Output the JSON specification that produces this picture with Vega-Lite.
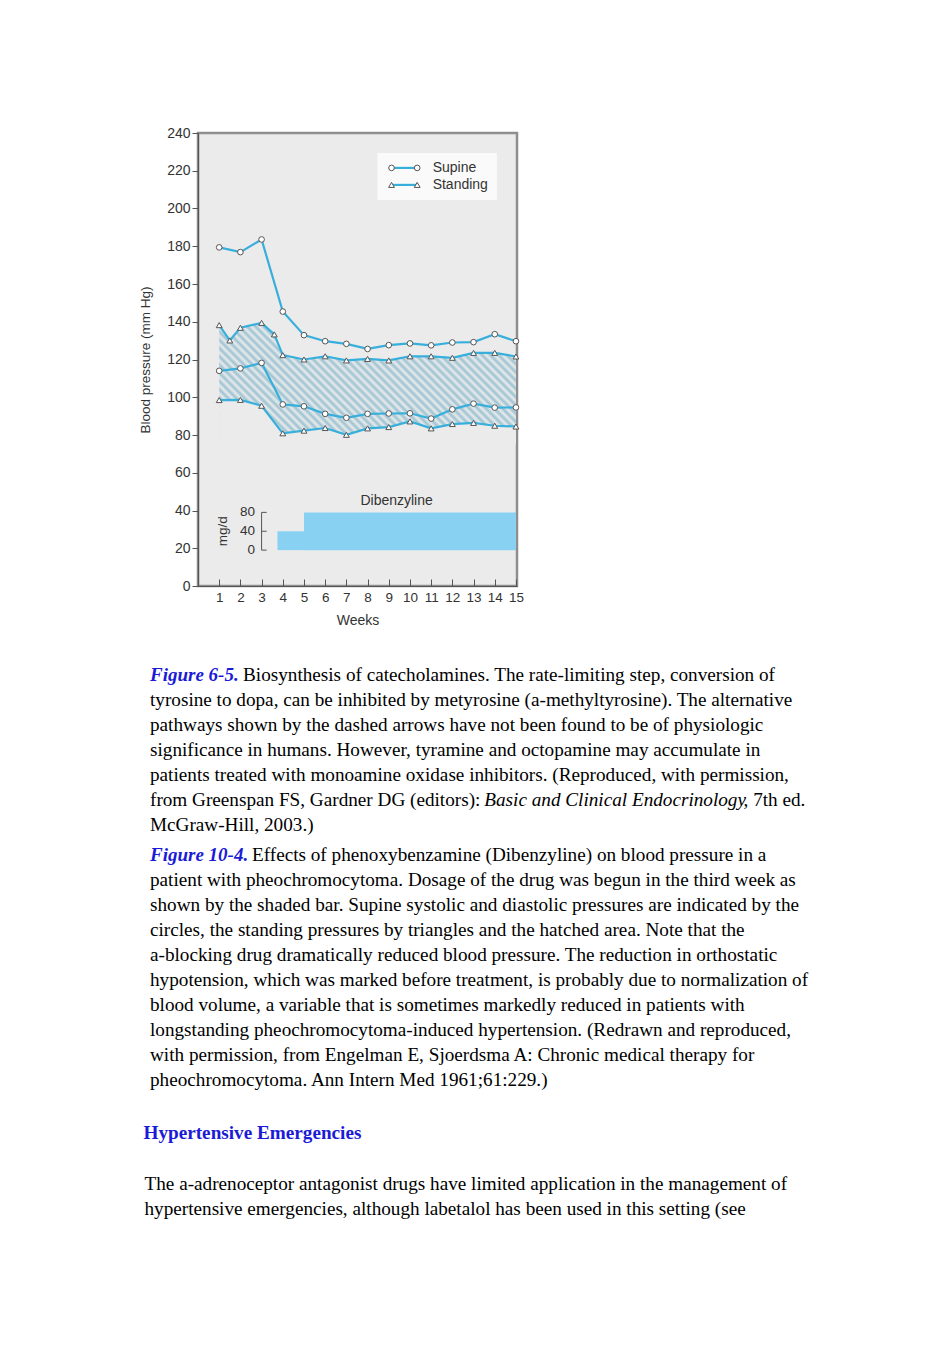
{
  "$schema": "https://vega.github.io/schema/vega-lite/v6.json",
  "background": "white",
  "padding": {"left": 136, "top": 124, "right": 5, "bottom": 5},
  "spacing": 26.5,
  "config": {"font": "Liberation Sans", "view": {"stroke": null}, "axis": {"labelOverlap": false, "labelFlush": false, "labelBound": false}},
  "datasets": {
    "bp": [
      {"week": 1, "posture": "Supine", "measure": "Systolic", "value": 179.4},
      {"week": 2, "posture": "Supine", "measure": "Systolic", "value": 176.9},
      {"week": 3, "posture": "Supine", "measure": "Systolic", "value": 183.6},
      {"week": 4, "posture": "Supine", "measure": "Systolic", "value": 145.4},
      {"week": 5, "posture": "Supine", "measure": "Systolic", "value": 132.9},
      {"week": 6, "posture": "Supine", "measure": "Systolic", "value": 129.7},
      {"week": 7, "posture": "Supine", "measure": "Systolic", "value": 128.3},
      {"week": 8, "posture": "Supine", "measure": "Systolic", "value": 125.6},
      {"week": 9, "posture": "Supine", "measure": "Systolic", "value": 127.6},
      {"week": 10, "posture": "Supine", "measure": "Systolic", "value": 128.5},
      {"week": 11, "posture": "Supine", "measure": "Systolic", "value": 127.5},
      {"week": 12, "posture": "Supine", "measure": "Systolic", "value": 129},
      {"week": 13, "posture": "Supine", "measure": "Systolic", "value": 129.2},
      {"week": 14, "posture": "Supine", "measure": "Systolic", "value": 133.4},
      {"week": 15, "posture": "Supine", "measure": "Systolic", "value": 129.7},
      {"week": 1, "posture": "Supine", "measure": "Diastolic", "value": 114},
      {"week": 2, "posture": "Supine", "measure": "Diastolic", "value": 115.3},
      {"week": 3, "posture": "Supine", "measure": "Diastolic", "value": 118.2},
      {"week": 4, "posture": "Supine", "measure": "Diastolic", "value": 96.2},
      {"week": 5, "posture": "Supine", "measure": "Diastolic", "value": 95.2},
      {"week": 6, "posture": "Supine", "measure": "Diastolic", "value": 91.2},
      {"week": 7, "posture": "Supine", "measure": "Diastolic", "value": 89.1},
      {"week": 8, "posture": "Supine", "measure": "Diastolic", "value": 91.2},
      {"week": 9, "posture": "Supine", "measure": "Diastolic", "value": 91.4},
      {"week": 10, "posture": "Supine", "measure": "Diastolic", "value": 91.5},
      {"week": 11, "posture": "Supine", "measure": "Diastolic", "value": 88.7},
      {"week": 12, "posture": "Supine", "measure": "Diastolic", "value": 93.6},
      {"week": 13, "posture": "Supine", "measure": "Diastolic", "value": 96.6},
      {"week": 14, "posture": "Supine", "measure": "Diastolic", "value": 94.5},
      {"week": 15, "posture": "Supine", "measure": "Diastolic", "value": 94.6},
      {"week": 1, "posture": "Standing", "measure": "Systolic", "value": 138.2},
      {"week": 1.5, "posture": "Standing", "measure": "Systolic", "value": 130.1},
      {"week": 2, "posture": "Standing", "measure": "Systolic", "value": 136.8},
      {"week": 3, "posture": "Standing", "measure": "Systolic", "value": 139.4},
      {"week": 3.6, "posture": "Standing", "measure": "Systolic", "value": 133.3},
      {"week": 4, "posture": "Standing", "measure": "Systolic", "value": 122.3},
      {"week": 5, "posture": "Standing", "measure": "Systolic", "value": 120},
      {"week": 6, "posture": "Standing", "measure": "Systolic", "value": 121.7},
      {"week": 7, "posture": "Standing", "measure": "Systolic", "value": 119.5},
      {"week": 8, "posture": "Standing", "measure": "Systolic", "value": 120.3},
      {"week": 9, "posture": "Standing", "measure": "Systolic", "value": 119.5},
      {"week": 10, "posture": "Standing", "measure": "Systolic", "value": 121.7},
      {"week": 11, "posture": "Standing", "measure": "Systolic", "value": 121.7},
      {"week": 12, "posture": "Standing", "measure": "Systolic", "value": 120.9},
      {"week": 13, "posture": "Standing", "measure": "Systolic", "value": 123.5},
      {"week": 14, "posture": "Standing", "measure": "Systolic", "value": 123.5},
      {"week": 15, "posture": "Standing", "measure": "Systolic", "value": 121.6},
      {"week": 1, "posture": "Standing", "measure": "Diastolic", "value": 98.5},
      {"week": 2, "posture": "Standing", "measure": "Diastolic", "value": 98.6},
      {"week": 3, "posture": "Standing", "measure": "Diastolic", "value": 95.5},
      {"week": 4, "posture": "Standing", "measure": "Diastolic", "value": 80.9},
      {"week": 5, "posture": "Standing", "measure": "Diastolic", "value": 82.3},
      {"week": 6, "posture": "Standing", "measure": "Diastolic", "value": 83.7},
      {"week": 7, "posture": "Standing", "measure": "Diastolic", "value": 80.1},
      {"week": 8, "posture": "Standing", "measure": "Diastolic", "value": 83.5},
      {"week": 9, "posture": "Standing", "measure": "Diastolic", "value": 84.2},
      {"week": 10, "posture": "Standing", "measure": "Diastolic", "value": 87.2},
      {"week": 11, "posture": "Standing", "measure": "Diastolic", "value": 83.5},
      {"week": 12, "posture": "Standing", "measure": "Diastolic", "value": 85.8},
      {"week": 13, "posture": "Standing", "measure": "Diastolic", "value": 86.4},
      {"week": 14, "posture": "Standing", "measure": "Diastolic", "value": 84.9},
      {"week": 15, "posture": "Standing", "measure": "Diastolic", "value": 84.5}
    ],
    "dose": [
      {"start": 3.75, "end": 5, "dose": 40},
      {"start": 5, "end": 15, "dose": 80}
    ],
    "doseTicks": [{"dose": 0}, {"dose": 40}, {"dose": 80}],
    "caption": [
      {"para": 1, "line": 0, "part": "label", "text": "Figure 6-5."},
      {"para": 1, "line": 0, "part": "lead", "text": "Biosynthesis of catecholamines. The rate-limiting step, conversion of"},
      {"para": 1, "line": 1, "part": "body", "text": "tyrosine to dopa, can be inhibited by metyrosine (a-methyltyrosine). The alternative"},
      {"para": 1, "line": 2, "part": "body", "text": "pathways shown by the dashed arrows have not been found to be of physiologic"},
      {"para": 1, "line": 3, "part": "body", "text": "significance in humans. However, tyramine and octopamine may accumulate in"},
      {"para": 1, "line": 4, "part": "body", "text": "patients treated with monoamine oxidase inhibitors. (Reproduced, with permission,"},
      {"para": 1, "line": 5, "part": "body", "text": "from Greenspan FS, Gardner DG (editors):"},
      {"para": 1, "line": 5, "part": "title", "text": "Basic and Clinical Endocrinology"},
      {"para": 1, "line": 5, "part": "tail", "text": ", 7th ed."},
      {"para": 1, "line": 6, "part": "body", "text": "McGraw-Hill, 2003.)"},
      {"para": 2, "line": 7, "part": "label", "text": "Figure 10-4."},
      {"para": 2, "line": 7, "part": "lead", "text": "Effects of phenoxybenzamine (Dibenzyline) on blood pressure in a"},
      {"para": 2, "line": 8, "part": "body", "text": "patient with pheochromocytoma. Dosage of the drug was begun in the third week as"},
      {"para": 2, "line": 9, "part": "body", "text": "shown by the shaded bar. Supine systolic and diastolic pressures are indicated by the"},
      {"para": 2, "line": 10, "part": "body", "text": "circles, the standing pressures by triangles and the hatched area. Note that the"},
      {"para": 2, "line": 11, "part": "body", "text": "a-blocking drug dramatically reduced blood pressure. The reduction in orthostatic"},
      {"para": 2, "line": 12, "part": "body", "text": "hypotension, which was marked before treatment, is probably due to normalization of"},
      {"para": 2, "line": 13, "part": "body", "text": "blood volume, a variable that is sometimes markedly reduced in patients with"},
      {"para": 2, "line": 14, "part": "body", "text": "longstanding pheochromocytoma-induced hypertension. (Redrawn and reproduced,"},
      {"para": 2, "line": 15, "part": "body", "text": "with permission, from Engelman E, Sjoerdsma A: Chronic medical therapy for"},
      {"para": 2, "line": 16, "part": "body", "text": "pheochromocytoma. Ann Intern Med 1961;61:229.)"},
      {"para": 3, "line": 17, "part": "heading", "text": "Hypertensive Emergencies"},
      {"para": 4, "line": 18, "part": "body", "text": "The a-adrenoceptor antagonist drugs have limited application in the management of"},
      {"para": 4, "line": 19, "part": "body", "text": "hypertensive emergencies, although labetalol has been used in this setting (see"}
    ]
  },
  "vconcat": [
    {
      "width": 319,
      "height": 453,
      "view": {"fill": "#ebebeb", "stroke": "#8e8e8e", "strokeWidth": 2.5},
      "layer": [
        {
          "data": {"name": "bp"},
          "layer": [
            {
              "transform": [{"filter": "datum.posture === 'Standing' && datum.measure === 'Systolic'"}],
              "mark": {
                "type": "area",
                "fill": {
                  "gradient": "linear",
                  "x1": 0, "y1": 1, "x2": 1.2065, "y2": 0.5287,
                  "stops": [
                    {"offset": 0, "color": "#9dc2d2"}, {"offset": 0.01, "color": "#e9ebeb"},
                    {"offset": 0.02, "color": "#9dc2d2"}, {"offset": 0.03, "color": "#e9ebeb"},
                    {"offset": 0.04, "color": "#9dc2d2"}, {"offset": 0.05, "color": "#e9ebeb"},
                    {"offset": 0.06, "color": "#9dc2d2"}, {"offset": 0.07, "color": "#e9ebeb"},
                    {"offset": 0.08, "color": "#9dc2d2"}, {"offset": 0.09, "color": "#e9ebeb"},
                    {"offset": 0.10, "color": "#9dc2d2"}, {"offset": 0.11, "color": "#e9ebeb"},
                    {"offset": 0.12, "color": "#9dc2d2"}, {"offset": 0.13, "color": "#e9ebeb"},
                    {"offset": 0.14, "color": "#9dc2d2"}, {"offset": 0.15, "color": "#e9ebeb"},
                    {"offset": 0.16, "color": "#9dc2d2"}, {"offset": 0.17, "color": "#e9ebeb"},
                    {"offset": 0.18, "color": "#9dc2d2"}, {"offset": 0.19, "color": "#e9ebeb"},
                    {"offset": 0.20, "color": "#9dc2d2"}, {"offset": 0.21, "color": "#e9ebeb"},
                    {"offset": 0.22, "color": "#9dc2d2"}, {"offset": 0.23, "color": "#e9ebeb"},
                    {"offset": 0.24, "color": "#9dc2d2"}, {"offset": 0.25, "color": "#e9ebeb"},
                    {"offset": 0.26, "color": "#9dc2d2"}, {"offset": 0.27, "color": "#e9ebeb"},
                    {"offset": 0.28, "color": "#9dc2d2"}, {"offset": 0.29, "color": "#e9ebeb"},
                    {"offset": 0.30, "color": "#9dc2d2"}, {"offset": 0.31, "color": "#e9ebeb"},
                    {"offset": 0.32, "color": "#9dc2d2"}, {"offset": 0.33, "color": "#e9ebeb"},
                    {"offset": 0.34, "color": "#9dc2d2"}, {"offset": 0.35, "color": "#e9ebeb"},
                    {"offset": 0.36, "color": "#9dc2d2"}, {"offset": 0.37, "color": "#e9ebeb"},
                    {"offset": 0.38, "color": "#9dc2d2"}, {"offset": 0.39, "color": "#e9ebeb"},
                    {"offset": 0.40, "color": "#9dc2d2"}, {"offset": 0.41, "color": "#e9ebeb"},
                    {"offset": 0.42, "color": "#9dc2d2"}, {"offset": 0.43, "color": "#e9ebeb"},
                    {"offset": 0.44, "color": "#9dc2d2"}, {"offset": 0.45, "color": "#e9ebeb"},
                    {"offset": 0.46, "color": "#9dc2d2"}, {"offset": 0.47, "color": "#e9ebeb"},
                    {"offset": 0.48, "color": "#9dc2d2"}, {"offset": 0.49, "color": "#e9ebeb"},
                    {"offset": 0.50, "color": "#9dc2d2"}, {"offset": 0.51, "color": "#e9ebeb"},
                    {"offset": 0.52, "color": "#9dc2d2"}, {"offset": 0.53, "color": "#e9ebeb"},
                    {"offset": 0.54, "color": "#9dc2d2"}, {"offset": 0.55, "color": "#e9ebeb"},
                    {"offset": 0.56, "color": "#9dc2d2"}, {"offset": 0.57, "color": "#e9ebeb"},
                    {"offset": 0.58, "color": "#9dc2d2"}, {"offset": 0.59, "color": "#e9ebeb"},
                    {"offset": 0.60, "color": "#9dc2d2"}, {"offset": 0.61, "color": "#e9ebeb"},
                    {"offset": 0.62, "color": "#9dc2d2"}, {"offset": 0.63, "color": "#e9ebeb"},
                    {"offset": 0.64, "color": "#9dc2d2"}, {"offset": 0.65, "color": "#e9ebeb"},
                    {"offset": 0.66, "color": "#9dc2d2"}, {"offset": 0.67, "color": "#e9ebeb"},
                    {"offset": 0.68, "color": "#9dc2d2"}, {"offset": 0.69, "color": "#e9ebeb"},
                    {"offset": 0.70, "color": "#9dc2d2"}, {"offset": 0.71, "color": "#e9ebeb"},
                    {"offset": 0.72, "color": "#9dc2d2"}, {"offset": 0.73, "color": "#e9ebeb"},
                    {"offset": 0.74, "color": "#9dc2d2"}, {"offset": 0.75, "color": "#e9ebeb"},
                    {"offset": 0.76, "color": "#9dc2d2"}, {"offset": 0.77, "color": "#e9ebeb"},
                    {"offset": 0.78, "color": "#9dc2d2"}, {"offset": 0.79, "color": "#e9ebeb"},
                    {"offset": 0.80, "color": "#9dc2d2"}, {"offset": 0.81, "color": "#e9ebeb"},
                    {"offset": 0.82, "color": "#9dc2d2"}, {"offset": 0.83, "color": "#e9ebeb"},
                    {"offset": 0.84, "color": "#9dc2d2"}, {"offset": 0.85, "color": "#e9ebeb"},
                    {"offset": 0.86, "color": "#9dc2d2"}, {"offset": 0.87, "color": "#e9ebeb"},
                    {"offset": 0.88, "color": "#9dc2d2"}, {"offset": 0.89, "color": "#e9ebeb"},
                    {"offset": 0.90, "color": "#9dc2d2"}, {"offset": 0.91, "color": "#e9ebeb"},
                    {"offset": 0.92, "color": "#9dc2d2"}, {"offset": 0.93, "color": "#e9ebeb"},
                    {"offset": 0.94, "color": "#9dc2d2"}, {"offset": 0.95, "color": "#e9ebeb"},
                    {"offset": 0.96, "color": "#9dc2d2"}, {"offset": 0.97, "color": "#e9ebeb"},
                    {"offset": 0.98, "color": "#9dc2d2"}, {"offset": 0.99, "color": "#e9ebeb"},
                    {"offset": 1, "color": "#9dc2d2"}
                  ]
                }
              },
              "encoding": {
                "x": {
                  "field": "week", "type": "quantitative",
                  "scale": {"domain": [0, 15.05], "nice": false, "zero": false},
                  "axis": {
                    "values": [1, 2, 3, 4, 5, 6, 7, 8, 9, 10, 11, 12, 13, 14, 15],
                    "tickCount": 40,
                    "format": "d", "title": "Weeks", "grid": false,
                    "tickSize": -7, "labelPadding": 11.5, "labelFlush": false, "labelOverlap": false,
                    "domainColor": "#555555", "domainWidth": 1.2, "tickColor": "#555555",
                    "labelFontSize": 13.5, "labelColor": "#333333",
                    "titleFontSize": 14, "titleFontWeight": "normal", "titleColor": "#333333", "titlePadding": 9.5
                  }
                },
                "y": {
                  "field": "value", "type": "quantitative",
                  "scale": {"domain": [0, 240], "nice": false},
                  "axis": {
                    "values": [0, 20, 40, 60, 80, 100, 120, 140, 160, 180, 200, 220, 240],
                    "tickCount": 40,
                    "title": "Blood pressure (mm Hg)", "grid": false,
                    "tickSize": 6, "labelPadding": 2, "labelFlush": false, "labelOverlap": false,
                    "domainColor": "#555555", "domainWidth": 1.2, "tickColor": "#555555",
                    "labelFontSize": 14, "labelColor": "#333333",
                    "titleFontSize": 13.5, "titleFontWeight": "normal", "titleColor": "#333333", "titlePadding": 14.5
                  }
                },
                "y2": {"datum": 78}
              }
            },
            {
              "transform": [{"filter": "datum.posture === 'Standing' && datum.measure === 'Diastolic'"}],
              "mark": {"type": "area", "fill": "#ebebeb"},
              "encoding": {
                "x": {"field": "week", "type": "quantitative"},
                "y": {"field": "value", "type": "quantitative"},
                "y2": {"datum": 75}
              }
            },
            {
              "mark": {"type": "line", "color": "#38afdb", "strokeWidth": 2.2},
              "encoding": {
                "x": {"field": "week", "type": "quantitative"},
                "y": {"field": "value", "type": "quantitative"},
                "detail": [{"field": "posture"}, {"field": "measure"}]
              }
            },
            {
              "transform": [{"filter": "datum.posture === 'Supine'"}],
              "mark": {"type": "point", "shape": "circle", "filled": true, "fill": "white", "stroke": "#555555", "strokeWidth": 1, "size": 32, "opacity": 1},
              "encoding": {
                "x": {"field": "week", "type": "quantitative"},
                "y": {"field": "value", "type": "quantitative"}
              }
            },
            {
              "transform": [{"filter": "datum.posture === 'Standing'"}],
              "mark": {"type": "point", "shape": "triangle-up", "filled": true, "fill": "white", "stroke": "#555555", "strokeWidth": 1, "size": 34, "opacity": 1},
              "encoding": {
                "x": {"field": "week", "type": "quantitative"},
                "y": {"field": "value", "type": "quantitative"}
              }
            },
            {
              "data": {"values": [{}]},
              "mark": {"type": "rect", "color": "#fafafa"},
              "encoding": {
                "x": {"datum": 8.46}, "x2": {"datum": 14.1},
                "y": {"datum": 229.4}, "y2": {"datum": 204.5}
              }
            },
            {
              "data": {"values": [{}]},
              "mark": {"type": "rule", "color": "#38afdb", "strokeWidth": 2.2},
              "encoding": {
                "x": {"datum": 9.13}, "x2": {"datum": 10.34},
                "y": {"datum": 221.5}
              }
            },
            {
              "data": {"values": [{}]},
              "mark": {"type": "rule", "color": "#38afdb", "strokeWidth": 2.2},
              "encoding": {
                "x": {"datum": 9.13}, "x2": {"datum": 10.34},
                "y": {"datum": 212.5}
              }
            },
            {
              "data": {"values": [{}]},
              "mark": {"type": "point", "shape": "circle", "filled": true, "fill": "white", "stroke": "#555555", "strokeWidth": 1, "size": 32, "opacity": 1},
              "encoding": {"x": {"datum": 9.13}, "y": {"datum": 221.5}}
            },
            {
              "data": {"values": [{}]},
              "mark": {"type": "point", "shape": "circle", "filled": true, "fill": "white", "stroke": "#555555", "strokeWidth": 1, "size": 32, "opacity": 1},
              "encoding": {"x": {"datum": 10.34}, "y": {"datum": 221.5}}
            },
            {
              "data": {"values": [{}]},
              "mark": {"type": "point", "shape": "triangle-up", "filled": true, "fill": "white", "stroke": "#555555", "strokeWidth": 1, "size": 34, "opacity": 1},
              "encoding": {"x": {"datum": 9.13}, "y": {"datum": 212.5}}
            },
            {
              "data": {"values": [{}]},
              "mark": {"type": "point", "shape": "triangle-up", "filled": true, "fill": "white", "stroke": "#555555", "strokeWidth": 1, "size": 34, "opacity": 1},
              "encoding": {"x": {"datum": 10.34}, "y": {"datum": 212.5}}
            },
            {
              "data": {"values": [{"label": "Supine"}]},
              "mark": {"type": "text", "align": "left", "baseline": "middle", "fontSize": 14, "color": "#333333"},
              "encoding": {"x": {"datum": 11.07}, "y": {"datum": 221.5}, "text": {"field": "label"}}
            },
            {
              "data": {"values": [{"label": "Standing"}]},
              "mark": {"type": "text", "align": "left", "baseline": "middle", "fontSize": 14, "color": "#333333"},
              "encoding": {"x": {"datum": 11.07}, "y": {"datum": 212.5}, "text": {"field": "label"}}
            },
            {
              "data": {"values": [{"label": "Dibenzyline"}]},
              "mark": {"type": "text", "align": "center", "baseline": "middle", "fontSize": 14, "color": "#333333"},
              "encoding": {"x": {"datum": 9.37}, "y": {"datum": 45.2}, "text": {"field": "label"}}
            }
          ]
        },
        {
          "layer": [
            {
              "data": {"name": "dose"},
              "mark": {"type": "rect", "color": "#88d1f3"},
              "encoding": {
                "x": {"field": "start", "type": "quantitative"},
                "x2": {"field": "end"},
                "y": {"field": "dose", "type": "quantitative", "scale": {"domain": [-76, 884], "nice": false, "zero": false}, "axis": null},
                "y2": {"datum": 0}
              }
            },
            {
              "data": {"values": [{}]},
              "mark": {"type": "rule", "color": "#555555", "strokeWidth": 1},
              "encoding": {
                "x": {"datum": 3.0},
                "y": {"datum": 0, "axis": null}, "y2": {"datum": 80}
              }
            },
            {
              "data": {"name": "doseTicks"},
              "mark": {"type": "rule", "color": "#555555", "strokeWidth": 1},
              "encoding": {
                "x": {"datum": 3.0}, "x2": {"datum": 3.24},
                "y": {"field": "dose", "type": "quantitative", "axis": null}
              }
            },
            {
              "data": {"name": "doseTicks"},
              "mark": {"type": "text", "align": "right", "baseline": "middle", "fontSize": 13.5, "color": "#333333"},
              "encoding": {
                "x": {"datum": 2.69},
                "y": {"field": "dose", "type": "quantitative", "axis": null},
                "text": {"field": "dose"}
              }
            },
            {
              "data": {"values": [{"label": "mg/d"}]},
              "mark": {"type": "text", "align": "center", "baseline": "middle", "fontSize": 13.5, "color": "#333333", "angle": 270},
              "encoding": {
                "x": {"datum": 1.19},
                "y": {"datum": 40, "axis": null},
                "text": {"field": "label"}
              }
            }
          ]
        }
      ],
      "resolve": {"scale": {"y": "independent"}}
    },
    {
      "width": 700,
      "height": 525,
      "data": {"name": "caption"},
      "encoding": {
        "x": {"datum": 0, "type": "quantitative", "scale": {"domain": [0, 1]}, "axis": null},
        "y": {"field": "line", "type": "quantitative", "scale": {"domain": [-1, 20], "reverse": true, "nice": false, "zero": false}, "axis": null},
        "text": {"field": "text"}
      },
      "layer": [
        {
          "transform": [{"filter": "datum.para === 1 && datum.part === 'body'"}],
          "mark": {"type": "text", "font": "Liberation Serif", "fontSize": 19.2, "color": "#000000", "align": "left", "baseline": "alphabetic", "dx": -48, "dy": 0}
        },
        {
          "transform": [{"filter": "datum.para === 2 && datum.part === 'body'"}],
          "mark": {"type": "text", "font": "Liberation Serif", "fontSize": 19.2, "color": "#000000", "align": "left", "baseline": "alphabetic", "dx": -48, "dy": 5.5}
        },
        {
          "transform": [{"filter": "datum.para === 4 && datum.part === 'body'"}],
          "mark": {"type": "text", "font": "Liberation Serif", "fontSize": 19.2, "color": "#000000", "align": "left", "baseline": "alphabetic", "dx": -53.5, "dy": 59.5}
        },
        {
          "transform": [{"filter": "datum.part === 'heading'"}],
          "mark": {"type": "text", "font": "Liberation Serif", "fontSize": 19.2, "fontWeight": "bold", "color": "#1b1bd6", "align": "left", "baseline": "alphabetic", "dx": -54.5, "dy": 33.5}
        },
        {
          "transform": [{"filter": "datum.para === 1 && datum.part === 'label'"}],
          "mark": {"type": "text", "font": "Liberation Serif", "fontSize": 19, "fontWeight": "bold", "fontStyle": "italic", "color": "#1b1bd6", "align": "left", "baseline": "alphabetic", "dx": -48, "dy": 0}
        },
        {
          "transform": [{"filter": "datum.para === 2 && datum.part === 'label'"}],
          "mark": {"type": "text", "font": "Liberation Serif", "fontSize": 19, "fontWeight": "bold", "fontStyle": "italic", "color": "#1b1bd6", "align": "left", "baseline": "alphabetic", "dx": -48, "dy": 5.5}
        },
        {
          "transform": [{"filter": "datum.para === 1 && datum.part === 'lead'"}],
          "mark": {"type": "text", "font": "Liberation Serif", "fontSize": 19.2, "color": "#000000", "align": "left", "baseline": "alphabetic", "dx": 45, "dy": 0}
        },
        {
          "transform": [{"filter": "datum.para === 2 && datum.part === 'lead'"}],
          "mark": {"type": "text", "font": "Liberation Serif", "fontSize": 19.2, "color": "#000000", "align": "left", "baseline": "alphabetic", "dx": 54, "dy": 5.5}
        },
        {
          "transform": [{"filter": "datum.part === 'title'"}],
          "mark": {"type": "text", "font": "Liberation Serif", "fontSize": 19.2, "fontStyle": "italic", "color": "#000000", "align": "left", "baseline": "alphabetic", "dx": 286.3, "dy": 0}
        },
        {
          "transform": [{"filter": "datum.part === 'tail'"}],
          "mark": {"type": "text", "font": "Liberation Serif", "fontSize": 19.2, "color": "#000000", "align": "left", "baseline": "alphabetic", "dx": 545.6, "dy": 0}
        }
      ]
    }
  ]
}
